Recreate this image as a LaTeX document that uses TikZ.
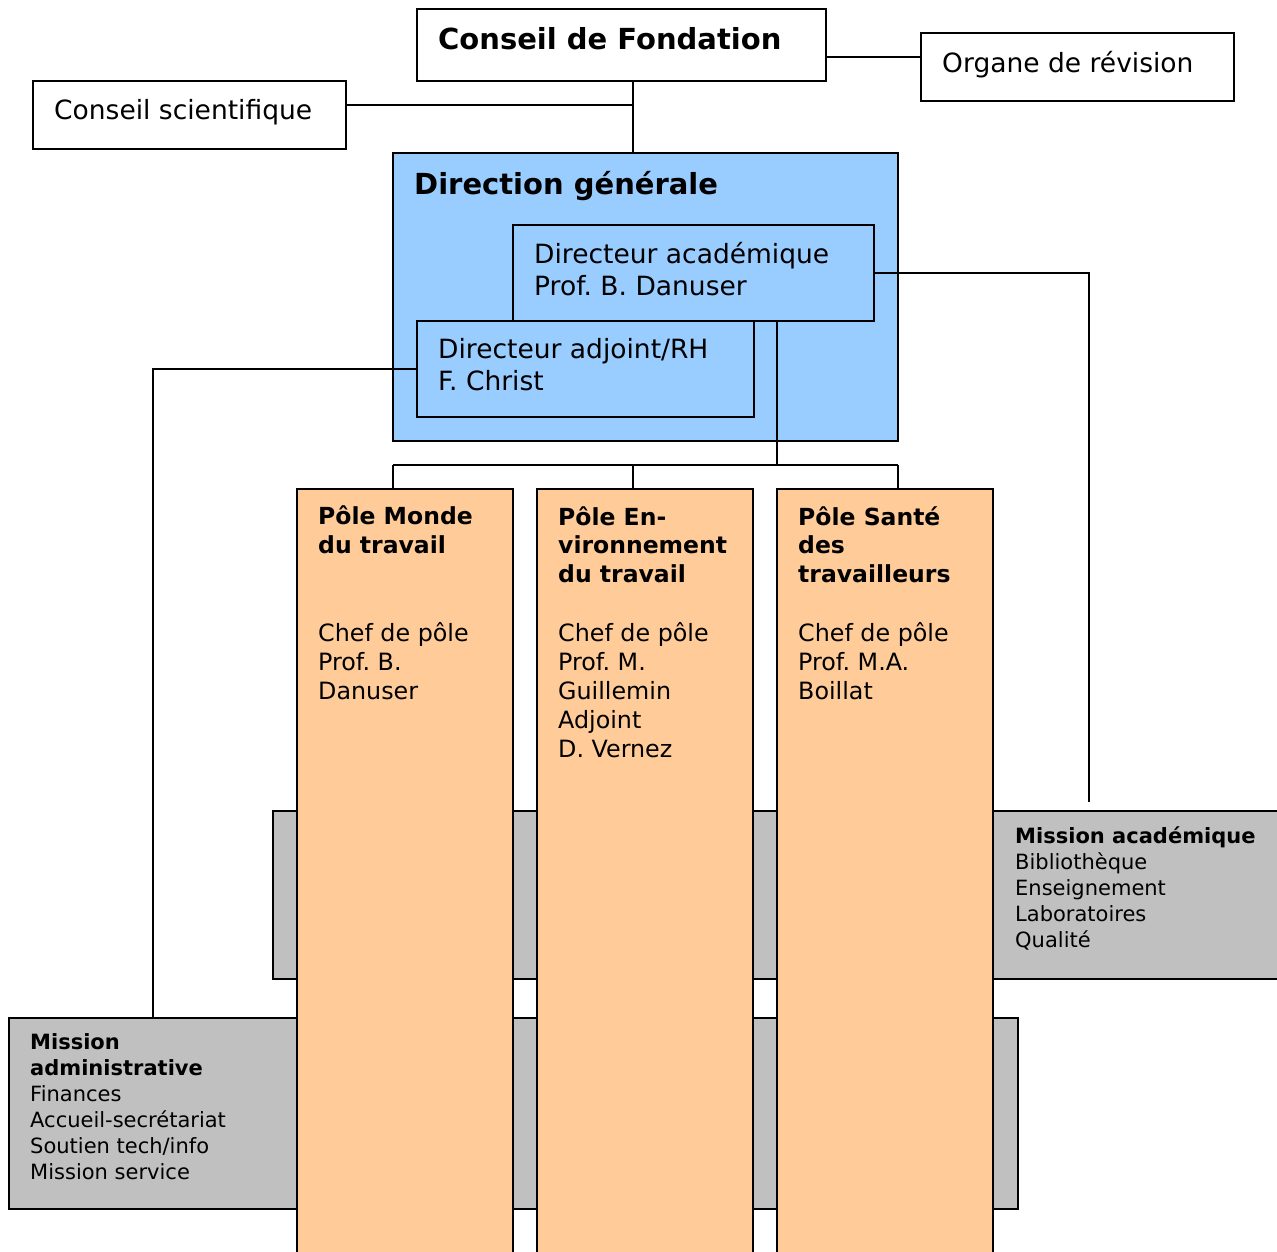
\documentclass[tikz,border=0pt]{standalone}
\usepackage{fontspec}
\setmainfont{DejaVu Sans}
\frenchspacing
\definecolor{dgblue}{HTML}{99CCFF}
\definecolor{poleorange}{HTML}{FFCC99}
\definecolor{bandgray}{HTML}{C0C0C0}
\begin{document}
\begin{tikzpicture}[x=1pt,y=-1pt,
  box/.style={draw=black,line width=1.4pt,inner sep=0pt,outer sep=0pt},
  conn/.style={draw=black,line width=1.4pt},
  txt/.style={anchor=north west,inner sep=0pt,align=left},
  big/.style={font=\fontsize{26.5}{32}\selectfont},
  bigb/.style={font=\bfseries\fontsize{29}{34}\selectfont},
  polet/.style={font=\bfseries\fontsize{23.5}{29}\selectfont},
  poleb/.style={font=\fontsize{23.8}{29}\selectfont},
  miss/.style={font=\fontsize{21}{26}\selectfont}]
\useasboundingbox (0,0) rectangle (1277,1252);
\fill[white] (0,0) rectangle (1277,1252);
% gray bands
\node[box,fill=bandgray,minimum width=1017pt,minimum height=168pt] (bt) at (781.5,895) {};
\node[box,fill=bandgray,minimum width=1009pt,minimum height=191pt] (bb) at (513.5,1113.5) {};
% poles
\node[box,fill=poleorange,minimum width=216pt,minimum height=781pt] (p1) at (405,879.5) {};
\node[box,fill=poleorange,minimum width=216pt,minimum height=781pt] (p2) at (645,879.5) {};
\node[box,fill=poleorange,minimum width=216pt,minimum height=781pt] (p3) at (885,879.5) {};
% top boxes
\node[box,fill=white,minimum width=409pt,minimum height=72pt] (cf) at (621.5,45) {};
\node[box,fill=white,minimum width=313pt,minimum height=68pt] (org) at (1077.5,67) {};
\node[box,fill=white,minimum width=313pt,minimum height=68pt] (cs) at (189.5,115) {};
\node[box,fill=dgblue,minimum width=505pt,minimum height=288pt] (dg) at (645.5,297) {};
\node[box,fill=dgblue,minimum width=361pt,minimum height=96pt] (da) at (693.5,273) {};
\node[box,fill=dgblue,minimum width=337pt,minimum height=96pt] (adj) at (585.5,369) {};
% texts
\node[txt,bigb] (tcf) at (438,27) {Conseil de Fondation};
\node[txt,big] (torg) at (942,51) {Organe de révision};
\node[txt,big] (tcs) at (54,99) {Conseil scientifique};
\node[txt,bigb] (tdg) at (414,171) {Direction générale};
\node[txt,big] (tda) at (534,242) {Directeur académique\\Prof. B. Danuser};
\node[txt,big] (tadj) at (438,338) {Directeur adjoint/RH\\F. Christ};
\node[txt,polet] (tp1) at (318,506) {Pôle Monde\\du travail};
\node[txt,polet] (tp2) at (558,506) {Pôle En-\\vironnement\\du travail};
\node[txt,polet] (tp3) at (798,506) {Pôle Santé\\des\\travailleurs};
\node[txt,poleb] (bp1) at (318,622) {Chef de pôle\\Prof. B.\\Danuser};
\node[txt,poleb] (bp2) at (558,622) {Chef de pôle\\Prof. M.\\Guillemin\\Adjoint\\D. Vernez};
\node[txt,poleb] (bp3) at (798,622) {Chef de pôle\\Prof. M.A.\\Boillat};
\node[txt,miss] (tma) at (1015,826) {\textbf{Mission académique}\\Bibliothèque\\Enseignement\\Laboratoires\\Qualité};
\node[txt,miss] (tmadm) at (30,1033) {\textbf{Mission}\\\textbf{administrative}\\Finances\\Accueil-secrétariat\\Soutien tech/info\\Mission service};
% connectors
\coordinate (j1) at (633,105);
\coordinate (jfo) at (873,57);
\coordinate (ma) at (1089,802);
\coordinate (madm) at (153,1018);
\coordinate (bus) at (777,465);
\coordinate (b1) at (393,465);
\coordinate (b2) at (633,465);
\coordinate (b3) at (898,465);
\draw[conn] (cf.south -| j1) -- (dg.north -| j1);
\draw[conn] (cs.east |- j1) -- (j1);
\draw[conn] (cf.east |- jfo) -- (org.west |- jfo);
\draw[conn] (da.east) -| (ma);
\draw[conn] (adj.west) -| (madm);
\draw[conn] (da.south -| bus) -- (bus);
\draw[conn] (b1) -- (b3);
\draw[conn] (b1) -- (p1.north -| b1);
\draw[conn] (b2) -- (p2.north -| b2);
\draw[conn] (b3) -- (p3.north -| b3);
\end{tikzpicture}
\end{document}
